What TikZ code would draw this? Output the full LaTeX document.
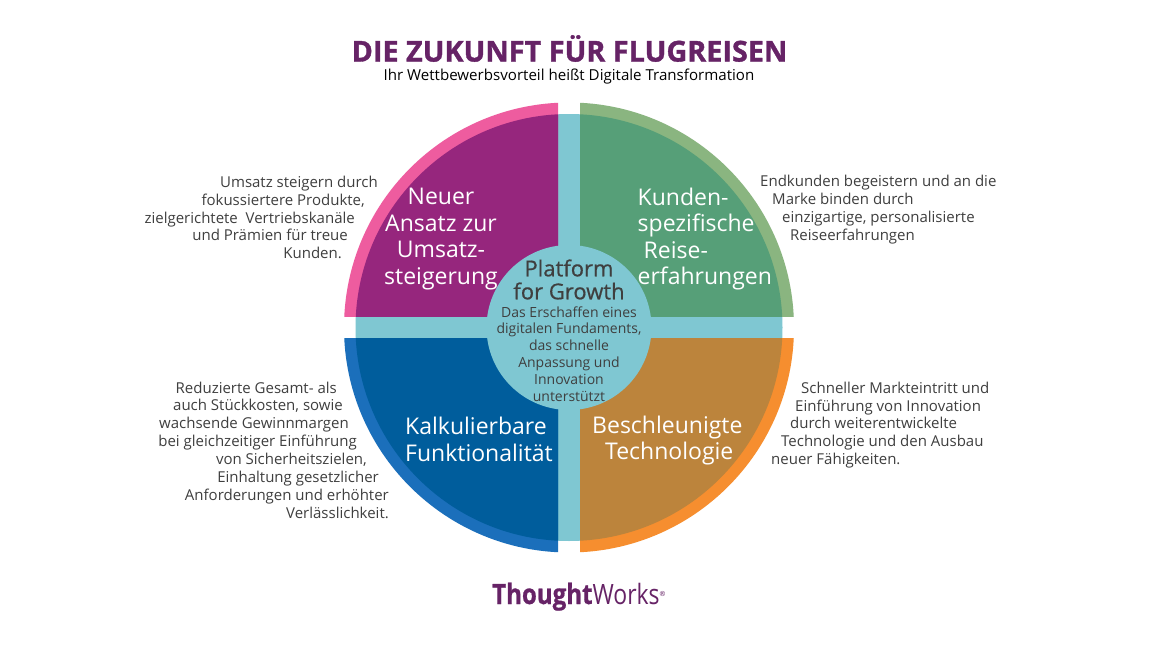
\documentclass[tikz,border=0pt]{standalone}
\usepackage{fontspec}
\setmainfont{Open Sans}
\newfontfamily\semifont[FakeBold=0.6]{Open Sans}
\newfontfamily\titlefont[UprightFont=* Bold,FakeBold=1.2]{Open Sans}
\newfontfamily\logofont[UprightFont=* Bold,FakeBold=0.8]{Open Sans}
\definecolor{tealc}{HTML}{7FC7D2}
\definecolor{txt}{HTML}{3F3F3F}
\definecolor{plum}{HTML}{662366}
\definecolor{pinkO}{HTML}{EE5C9F}\definecolor{pinkI}{HTML}{96267D}
\definecolor{greenO}{HTML}{8AB580}\definecolor{greenI}{HTML}{569F78}
\definecolor{blueO}{HTML}{1B6FBB}\definecolor{blueI}{HTML}{005D9C}
\definecolor{orangeO}{HTML}{F68E2F}\definecolor{orangeI}{HTML}{BC843C}
\tikzset{
  sidetext/.style={font=\fontsize{15}{17.85}\selectfont,text=txt,inner sep=0pt},
  quadlabel/.style={font=\fontsize{23}{26.6}\selectfont,text=white,inner sep=0pt},
}
\newcommand{\quadrant}[6]{%
  \begin{scope}
    \clip (#1,#2) rectangle (#3,#4);
    \fill[#5] (569,327.5) circle[radius=225pt];
    \fill[#6] (569,327.5) circle[radius=213.5pt];
  \end{scope}}
\newcommand{\ind}[1]{\hbox to #1pt{}}
\begin{document}
\begin{tikzpicture}[x=1pt,y=-1pt]
\useasboundingbox (0,0) rectangle (1152,648);
\fill[white] (0,0) rectangle (1152,648);
\fill[tealc] (569,327.5) circle[radius=213.5pt];
\quadrant{340}{98}{558}{316.5}{pinkO}{pinkI}
\quadrant{580}{98}{798}{316.5}{greenO}{greenI}
\quadrant{340}{338.5}{558}{557}{blueO}{blueI}
\quadrant{580}{338.5}{798}{557}{orangeO}{orangeI}
\fill[tealc] (569,327.5) circle[radius=82.5pt];

\node[font=\titlefont\fontsize{28.8}{32}\selectfont,text=plum,inner sep=0pt] (title) at (569.5,48.5) {DIE ZUKUNFT FÜR FLUGREISEN};
\node[font=\fontsize{15.1}{18}\selectfont,text=black,inner sep=0pt] (subtitle) at (569,76.5) {Ihr Wettbewerbsvorteil heißt Digitale Transformation};

\node[sidetext,align=right,anchor=east] (t1) at (378,217.5) {Umsatz steigern durch\\
fokussiertere Produkte,\ind{13}\\
zielgerichtete\ \ Vertriebskanäle\ind{23}\\
und Prämien für treue\ind{30}\\
Kunden.\ind{36}};
\node[sidetext,align=left,anchor=west] (t2) at (760,209.5) {Endkunden begeistern und an die\\
\ind{12}Marke binden durch\\
\ind{22}einzigartige, personalisierte\\
\ind{30}Reiseerfahrungen};
\node[sidetext,align=right,anchor=east] (t3) at (389,450) {Reduzierte Gesamt- als\ind{52}\\
auch Stückkosten, sowie\ind{46}\\
wachsende Gewinnmargen\ind{40}\\
bei gleichzeitiger Einführung\ind{32}\\
von Sicherheitszielen,\ind{22}\\
Einhaltung gesetzlicher\ind{10}\\
Anforderungen und erhöhter\\
Verlässlichkeit.};
\node[sidetext,align=left,anchor=west] (t4) at (771,425) {\ind{30}Schneller Markteintritt und\\
\ind{24}Einführung von Innovation\\
\ind{19}durch weiterentwickelte\\
\ind{10}Technologie und den Ausbau\\
neuer Fähigkeiten.};

\node[quadlabel,align=center] (q1) at (441,239) {Neuer\\Ansatz zur\\Umsatz-\\steigerung};
\node[quadlabel,align=left,anchor=west] (q2) at (637.5,239) {Kunden-\\spezifische\\\ind{6}Reise-\\erfahrungen};
\node[quadlabel,align=left,anchor=west] (q3) at (405,439.5) {Kalkulierbare\\Funktionalität};
\node[quadlabel,align=left,anchor=west] (q4) at (592,440.5) {Beschleunigte\\\ind{13}Technologie};

\node[font=\semifont\fontsize{22}{23}\selectfont,text=txt,align=center,inner sep=0pt] (center) at (569,279.5) {Platform\\for Growth};
\node[font=\fontsize{14}{16.9}\selectfont,text=txt,align=center,inner sep=0pt] (centertext) at (569,354) {Das Erschaffen eines\\digitalen Fundaments,\\das schnelle\\Anpassung und\\Innovation\\unterstützt};

\node[text=plum,inner sep=0pt,font=\fontsize{28}{30}\selectfont,anchor=base west] (logo) at (492,604) {\scalebox{.86}[1]{{\logofont Thought}}\scalebox{.82}[1]{Works}\raisebox{8pt}{\fontsize{7}{7}\selectfont ®}};
\end{tikzpicture}
\end{document}
